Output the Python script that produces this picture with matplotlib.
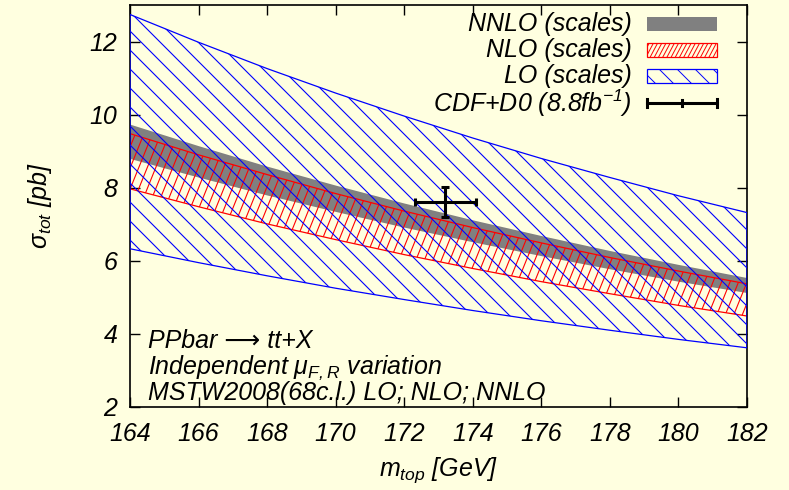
import numpy as np
import matplotlib
matplotlib.use("Agg")
import matplotlib.pyplot as plt
from matplotlib.collections import LineCollection
from matplotlib.transforms import IdentityTransform
from matplotlib.patches import Rectangle

# top-quark mass grid [GeV]
mass = [164, 166, 168, 170, 172, 174, 176, 178, 180, 182]

# scale-variation envelopes of sigma_tot [pb]
lo_hi = [12.74, 11.98, 11.26, 10.59, 9.96, 9.36, 8.80, 8.28, 7.78, 7.32]
lo_lo = [6.33, 5.95, 5.59, 5.25, 4.94, 4.64, 4.36, 4.10, 3.85, 3.62]
nlo_hi = [9.48, 8.90, 8.36, 7.84, 7.36, 6.91, 6.49, 6.09, 5.72, 5.37]
nlo_lo = [7.97, 7.48, 7.01, 6.58, 6.17, 5.79, 5.43, 5.10, 4.78, 4.49]
nnlo_hi = [9.73, 9.14, 8.58, 8.06, 7.57, 7.11, 6.68, 6.27, 5.89, 5.53]
nnlo_lo = [8.79, 8.28, 7.79, 7.34, 6.91, 6.51, 6.13, 5.77, 5.43, 5.12]

# Tevatron combination
data_m = [173.2]
data_m_err = [0.9]
data_sigma = [7.60]
data_sigma_err = [0.41]

xticks = [164, 166, 168, 170, 172, 174, 176, 178, 180, 182]
yticks = [2, 4, 6, 8, 10, 12]

BG = "#FFFFE0"
GRAY = "#808080"
W, H = 789, 490

plt.rcParams["font.family"] = ["Liberation Sans", "DejaVu Sans"]
plt.rcParams["font.style"] = "italic"
plt.rcParams["mathtext.fontset"] = "custom"
plt.rcParams["mathtext.it"] = "Liberation Sans:italic"
plt.rcParams["mathtext.rm"] = "Liberation Sans"
plt.rcParams["mathtext.sf"] = "Liberation Sans:italic"
plt.rcParams["mathtext.default"] = "it"

FS = 18

fig = plt.figure(figsize=(W / 100, H / 100), dpi=100, facecolor=BG)


def fp(x, y):
    """pixel position (from top-left) -> figure fraction"""
    return x / W, 1 - y / H


ax = fig.add_axes([130 / W, 1 - 407 / H, 617 / W, 402 / H])
ax.set_facecolor(BG)
ax.set_xlim(164, 182)
ax.set_ylim(2, 13)


def hatch_lines(parent, clip, clip_tr, region, angle, step, color, lw, zorder):
    """straight hatch lines at a given screen angle, clipped to a shape"""
    a = np.deg2rad(angle)
    d = np.array([np.cos(a), np.sin(a)])
    n = np.array([-np.sin(a), np.cos(a)])
    corners = np.array([[region.x0, region.y0], [region.x1, region.y0],
                        [region.x0, region.y1], [region.x1, region.y1]])
    proj = corners @ n
    p = step * abs(np.sin(a))
    offs = np.arange(np.floor(proj.min() / p) * p, proj.max() + p, p)
    centre = corners.mean(axis=0)
    t0 = centre @ d
    L = np.hypot(region.width, region.height)
    segs = [[c * n + (t0 - L) * d, c * n + (t0 + L) * d] for c in offs]
    lc = LineCollection(segs, colors=color, linewidths=lw,
                        transform=IdentityTransform(), zorder=zorder)
    if clip_tr is None:
        lc.set_clip_path(clip)
    else:
        lc.set_clip_path(clip, clip_tr)
    if parent is fig:
        fig.add_artist(lc)
    else:
        parent.add_collection(lc, autolim=False)
    return lc


# NNLO band (solid grey)
ax.fill_between(mass, nnlo_lo, nnlo_hi, facecolor=GRAY, edgecolor="none", lw=0, zorder=1)

# NLO band (red hatch)
nlo = ax.fill_between(mass, nlo_lo, nlo_hi, facecolor="none", edgecolor="red", lw=0.9, zorder=2.5)
hatch_lines(ax, nlo.get_paths()[0], ax.transData, ax.bbox, 68, 8.5, "red", 0.8, 2)

# LO band (blue hatch)
lo = ax.fill_between(mass, lo_lo, lo_hi, facecolor="none", edgecolor="blue", lw=0.9, zorder=3.5)
hatch_lines(ax, lo.get_paths()[0], ax.transData, ax.bbox, -45, 19, "blue", 0.8, 3)

# measurement
ax.errorbar(data_m, data_sigma, xerr=data_m_err, yerr=data_sigma_err, fmt="none",
            ecolor="black", elinewidth=2.2, capsize=3, capthick=2.2, zorder=6)

# axes styling
ax.set_xticks(xticks)
ax.set_yticks(yticks)
ax.tick_params(direction="in", length=7, width=1, top=True, right=True,
               labelsize=FS, color="black")
ax.tick_params(axis="x", pad=11)
ax.tick_params(axis="y", pad=9)
for s in ax.spines.values():
    s.set_linewidth(1.2)

ax.set_xlabel(r"$m_{top}$ [GeV]", fontsize=FS)
ax.xaxis.label.set_verticalalignment("center")
ax.xaxis.set_label_coords(0.5, (407 - 470) / 402)
ax.set_ylabel(r"$\mathrm{\sigma}_{tot}$ [pb]", fontsize=FS)
ax.yaxis.label.set_verticalalignment("center")
ax.yaxis.label.set_horizontalalignment("center")
ax.yaxis.set_label_coords((40 - 130) / 617, 0.5)

# process description
notes = ["PPbar \u27f6 tt+X",
         r"Independent $\mathrm{\mu}_{F,R}$ variation",
         "MSTW2008(68c.l.) LO; NLO; NNLO"]
for i, line in enumerate(notes):
    fig.text(*fp(148, 348 + 26 * i), line, fontsize=FS, ha="left", va="baseline")

# key
labels = ["NNLO (scales)", "NLO (scales)", "LO (scales)", r"CDF+D0 (8.8fb$^{-1}$)"]
rows = [24, 50, 76, 103]
kx0, kx1, kh = 647, 717, 14
for lab, yc in zip(labels, rows):
    fig.text(*fp(632, yc), lab, fontsize=FS, ha="right", va="center")

fig.add_artist(Rectangle(fp(kx0, rows[0] + kh / 2), (kx1 - kx0) / W, kh / H,
                         transform=fig.transFigure, facecolor=GRAY, edgecolor="none"))

r_nlo = Rectangle(fp(kx0, rows[1] + kh / 2), (kx1 - kx0) / W, kh / H,
                  transform=fig.transFigure, facecolor="none", edgecolor="red", lw=0.9, zorder=3)
fig.add_artist(r_nlo)
hatch_lines(fig, r_nlo, None, r_nlo.get_window_extent(), 62, 4.2, "red", 0.7, 2)

r_lo = Rectangle(fp(kx0, rows[2] + kh / 2), (kx1 - kx0) / W, kh / H,
                 transform=fig.transFigure, facecolor="none", edgecolor="blue", lw=0.9, zorder=3)
fig.add_artist(r_lo)
hatch_lines(fig, r_lo, None, r_lo.get_window_extent(), -45, 18, "blue", 0.7, 2)

ky = rows[3]
fig.add_artist(plt.Line2D([kx0 / W, kx1 / W], [1 - ky / H] * 2, transform=fig.transFigure,
                          color="black", lw=2.2))
for xx, hh in [(kx0, 4), (kx1, 4), ((kx0 + kx1) / 2, 3)]:
    fig.add_artist(plt.Line2D([xx / W] * 2, [1 - (ky - hh) / H, 1 - (ky + hh) / H],
                              transform=fig.transFigure, color="black", lw=2.2))

fig.savefig("out.png", dpi=100, facecolor=BG)
